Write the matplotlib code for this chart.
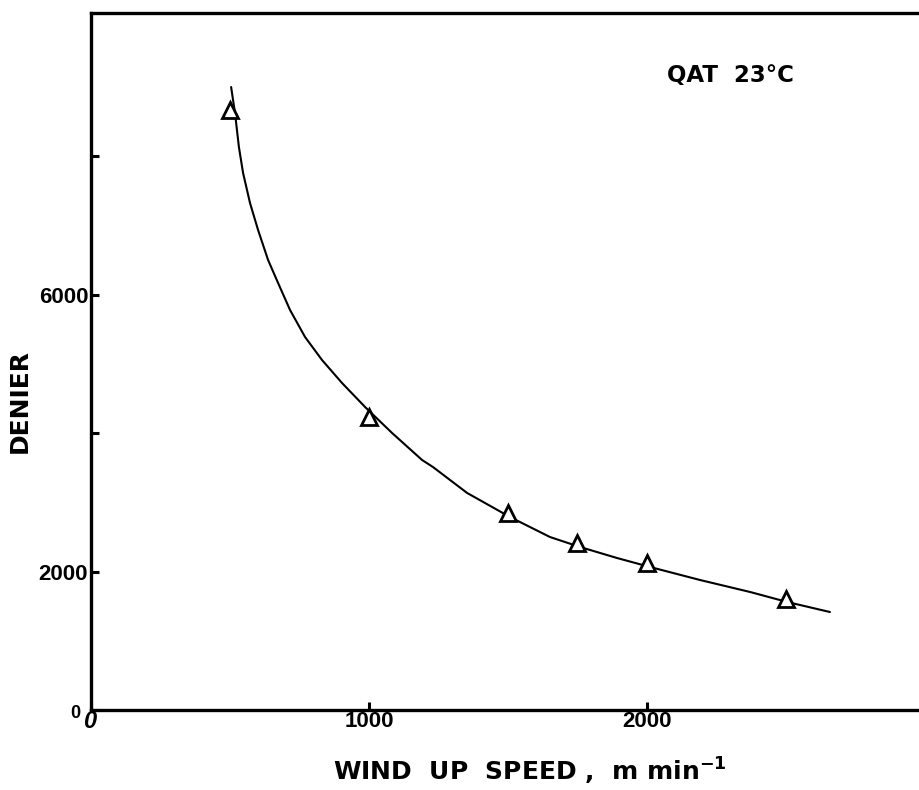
import matplotlib
matplotlib.use("Agg")
import matplotlib.pyplot as plt

plt.rcParams["mathtext.fontset"] = "dejavusans"

# Measured data points (triangles)
speed = [500, 1000, 1500, 1750, 2000, 2500]
denier = [8660, 4230, 2845, 2410, 2120, 1600]

# Fitted curve
curve_speed = [504, 518, 532, 547, 572, 601, 637, 673, 716, 770, 831, 903, 986,
               1083, 1191, 1230, 1353, 1507, 1651, 1759, 1892, 2011, 2191, 2371,
               2504, 2658]
curve_denier = [8996, 8621, 8130, 7755, 7321, 6931, 6498, 6166, 5776, 5386, 5054,
                4722, 4375, 4000, 3610, 3509, 3134, 2787, 2498, 2354, 2195, 2065,
                1877, 1704, 1560, 1415]

yticks = [0, 2000, 4000, 6000, 8000]
ytick_labels = ["", "2000", "", "6000", ""]
xticks = [0, 1000, 2000, 3000]
xtick_labels = ["", "1000", "2000", ""]

W, H = 920, 790
fig = plt.figure(figsize=(W / 100, H / 100), dpi=100)
left, right, bottom, top = 91, 925, 710, 13
ax = fig.add_axes([left / W, (H - bottom) / H, (right - left) / W, (bottom - top) / H])

ax.plot(curve_speed, curve_denier, color="black", lw=1.5,
        solid_capstyle="round", solid_joinstyle="round")
ax.plot(speed, denier, linestyle="none", marker="^", ms=12, mfc="white",
        mec="black", mew=2.0, zorder=3)

ax.set_xlim(0, 3000)
ax.set_ylim(0, 10065)
for s in ax.spines.values():
    s.set_linewidth(2.4)

ax.set_yticks(yticks)
ax.set_yticklabels(ytick_labels)
ax.set_xticks(xticks)
ax.set_xticklabels(xtick_labels)
ax.tick_params(direction="in", length=6, width=2.2, pad=2, labelsize=16)
ax.tick_params(axis="x", pad=1)
for lab in ax.get_xticklabels() + ax.get_yticklabels():
    lab.set_family("Liberation Sans")
    lab.set_fontweight("bold")

# origin labels
fig.text(75 / W, (H - 713) / H, "0", fontsize=13, fontweight="bold",
         family="Liberation Sans", ha="center", va="center")
fig.text(90 / W, (H - 721) / H, "0", fontsize=17, fontweight="bold",
         style="italic", family="Liberation Sans", ha="center", va="center")

fig.text(667 / W, (H - 82) / H, "QAT  23°C", fontsize=16.5, fontweight="bold",
         family="DejaVu Sans", ha="left", va="baseline")

fig.text(333 / W, (H - 781) / H, r"WIND  UP  SPEED ,  m min$^{\mathbf{-1}}$",
         fontsize=18, fontweight="bold", family="DejaVu Sans",
         ha="left", va="baseline")

fig.text(20 / W, (H - 401) / H, "DENIER", fontsize=18, fontweight="bold",
         family="DejaVu Sans", rotation=90, ha="center", va="center")

fig.savefig("out.png", dpi=100, facecolor="white")
